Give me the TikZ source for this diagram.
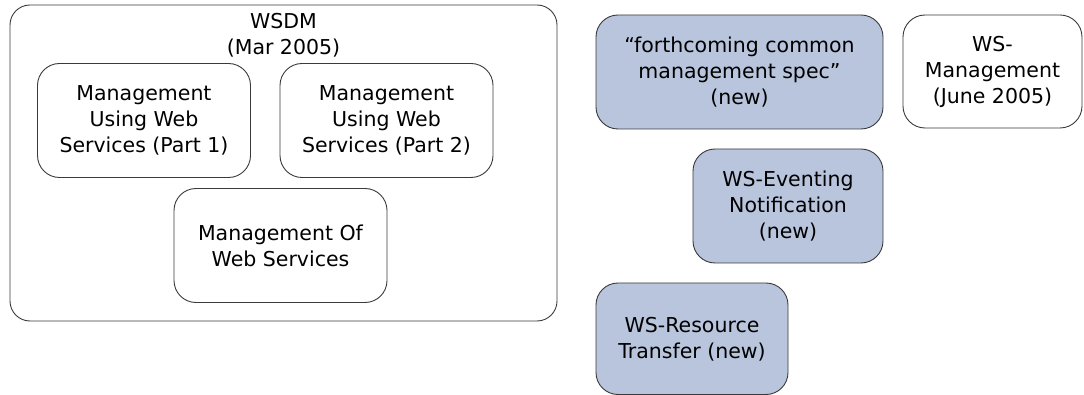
\documentclass[tikz,border=0pt]{standalone}
\usepackage{fontspec}
\setmainfont{DejaVu Sans}
\definecolor{boxfill}{HTML}{B9C5DC}
\definecolor{edge}{HTML}{3A3A3A}
\begin{document}
\begin{tikzpicture}[x=1pt,y=-1pt,
  every node/.style={font=\fontsize{20.5}{26}\selectfont, align=center, inner sep=0pt},
  box/.style={draw=edge, line width=0.9pt, rounded corners=22pt, minimum width=213pt, minimum height=114pt},
  newbox/.style={box, fill=boxfill},
  outerbox/.style={draw=edge, line width=0.9pt, rounded corners=20pt, minimum width=547pt, minimum height=316pt}
]
\useasboundingbox (0,0) rectangle (1084,395);
\node[outerbox] (wsdm) at (283.5,163) {};
\node (wsdmlabel) at (283.5,35) {WSDM\\(Mar 2005)};
\node[box] (p1) at (144,120.5) {Management\\Using Web\\Services (Part 1)};
\node[box] (p2) at (386.5,120.5) {Management\\Using Web\\Services (Part 2)};
\node[box] (mow) at (280.5,245.5) {Management Of\\Web Services};
\node[newbox, minimum width=287pt] (fcm) at (739.5,72) {“forthcoming common\\management spec”\\(new)};
\node[box, minimum width=179pt, minimum height=113pt] (wsm) at (992.5,71.5) {WS-\\Management\\(June 2005)};
\node[newbox, minimum width=190pt] (wse) at (788,206) {WS-Eventing\\Notification\\(new)};
\node[newbox, minimum width=192pt, minimum height=111.5pt] (wsr) at (692,338.75) {WS-Resource\\Transfer (new)};
\end{tikzpicture}
\end{document}
